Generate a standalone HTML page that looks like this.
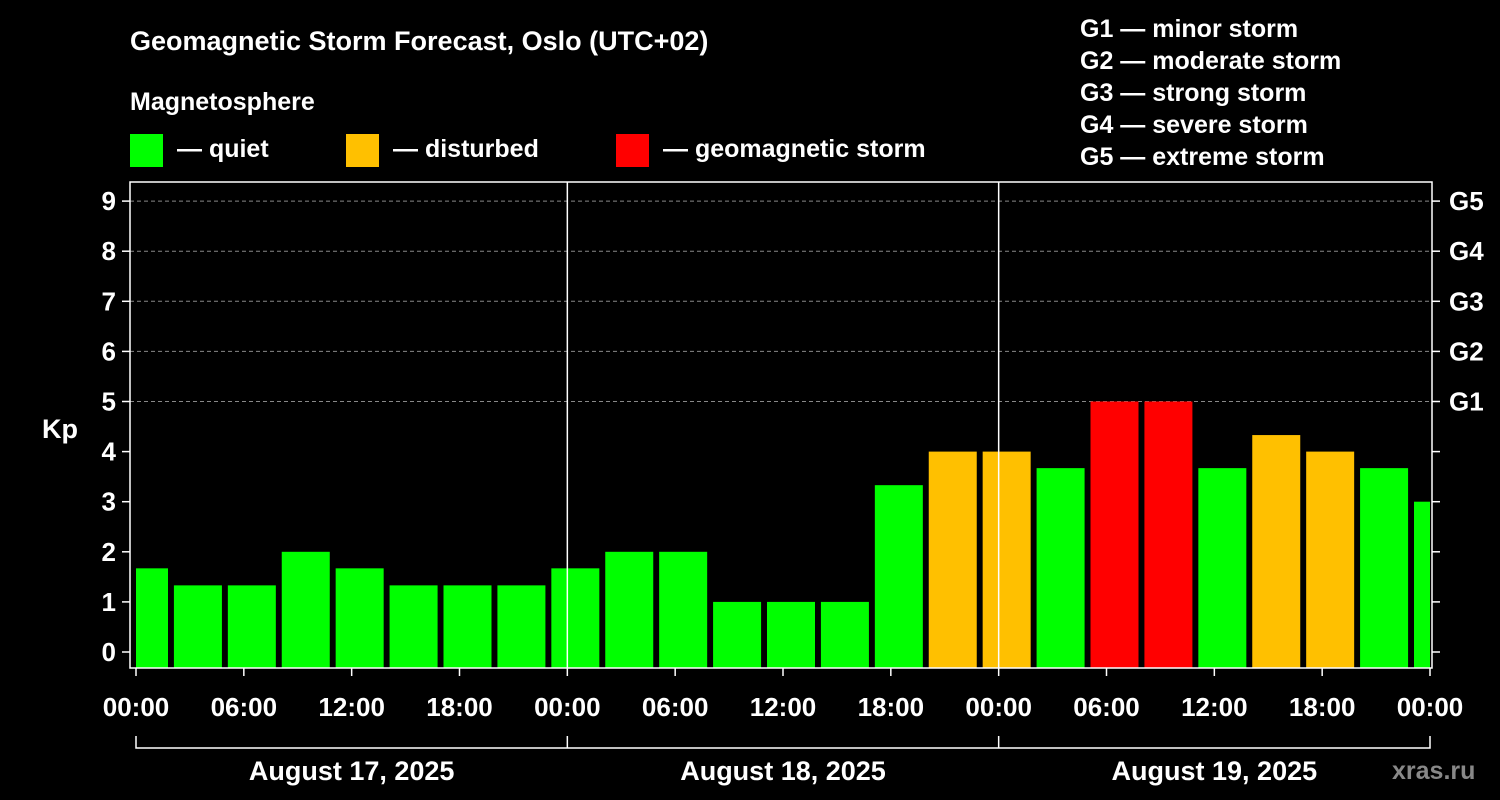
<!DOCTYPE html>
<html><head><meta charset="utf-8"><style>
body{margin:0;background:#000;}
svg{display:block;font-family:"Liberation Sans",Arial,sans-serif;font-weight:bold;}
</style></head><body>
<svg id="c" width="1500" height="800" viewBox="0 0 1500 800">
<rect width="1500" height="800" fill="#000"/>
<text x="130" y="50" fill="#fff" font-size="27">Geomagnetic Storm Forecast, Oslo (UTC+02)</text>
<text x="130" y="110" fill="#fff" font-size="25">Magnetosphere</text>
<g>
<rect x="130" y="134" width="33" height="33" fill="#00ff00"/>
<text x="177" y="157" fill="#fff" font-size="25">— quiet</text>
<rect x="346" y="134" width="33" height="33" fill="#ffc000"/>
<text x="393" y="157" fill="#fff" font-size="25">— disturbed</text>
<rect x="616" y="134" width="33" height="33" fill="#ff0000"/>
<text x="663" y="157" fill="#fff" font-size="25">— geomagnetic storm</text>
</g>
<g fill="#fff" font-size="25">
<text x="1080" y="37">G1 — minor storm</text>
<text x="1080" y="69">G2 — moderate storm</text>
<text x="1080" y="101">G3 — strong storm</text>
<text x="1080" y="133">G4 — severe storm</text>
<text x="1080" y="165">G5 — extreme storm</text>
</g>
<text x="42" y="438" fill="#fff" font-size="27">Kp</text>
<text x="1392" y="779" fill="#888" font-size="25">xras.ru</text>
<g id="plot"></g>
</svg>
<script>
const values=[1.67,1.33,1.33,2,1.67,1.33,1.33,1.33,1.67,2,2,1,1,1,3.33,4,4,3.67,5,5,3.67,4.33,4,3.67,3];
const yTicks=[0,1,2,3,4,5,6,7,8,9];
const gLabels=["","","","","","G1","G2","G3","G4","G5"];
const xTickLabels=["00:00","06:00","12:00","18:00","00:00","06:00","12:00","18:00","00:00","06:00","12:00","18:00","00:00"];
const dayLabels=["August 17, 2025","August 18, 2025","August 19, 2025"];
const NS="http://www.w3.org/2000/svg";
const g=document.getElementById('plot');
const L=130,R=1432,T=182,B=668,X0=136,X1=1430;
const y=v=>652-v*50.1;
const xh=h=>X0+h*(X1-X0)/72;
function mk(t,a,p){const e=document.createElementNS(NS,t);for(const k in a)e.setAttribute(k,a[k]);(p||g).appendChild(e);return e;}
// grid
yTicks.forEach((v,i)=>{
 if(v>=5){const l=mk('line',{x1:L,x2:R,y1:y(v),y2:y(v),stroke:'#888','stroke-dasharray':'4,3','stroke-width':1});
 }
 const t1=mk('line',{x1:L-8,x2:L,y1:y(v),y2:y(v),stroke:'#fff','stroke-width':1.5});
 
 const t2=mk('line',{x1:R,x2:R+8,y1:y(v),y2:y(v),stroke:'#fff','stroke-width':1.5});
 
 const tx=mk('text',{x:L-14,y:y(v)+9,fill:'#fff','font-size':26,'text-anchor':'end'});tx.textContent=v;
 
 if(gLabels[i]){const gt=mk('text',{x:R+17,y:y(v)+9,fill:'#fff','font-size':26});gt.textContent=gLabels[i];
 }
});
// bars
values.forEach((v,k)=>{
 let x1=xh(3*k-0.89)+6*0, xa=xh(3*k)-16+0, xb;
 xa=X0-16+54*k*(X1-X0)/1296; xb=xa+48;
 xa=Math.max(xa,X0);xb=Math.min(xb,X1-0);
 const c=v>=4.99?'#ff0000':(v>=3.99?'#ffc000':'#00ff00');
 const r=mk('rect',{x:xa,y:y(v),width:xb-xa,height:B-y(v),fill:c});
 
});
// day separators
[24,48].forEach(h=>{const l=mk('line',{x1:xh(h),x2:xh(h),y1:T,y2:B,stroke:'#fff','stroke-width':1.5});
 });
const fr=mk('rect',{x:L,y:T,width:R-L,height:B-T,fill:'none',stroke:'#fff','stroke-width':1.5});

xTickLabels.forEach((s,i)=>{const x=xh(i*6);
 const t=mk('line',{x1:x,x2:x,y1:B,y2:B+8,stroke:'#fff','stroke-width':1.5});
 
 const tx=mk('text',{x:x,y:716,fill:'#fff','font-size':26,'text-anchor':'middle'});tx.textContent=s;
 });
const br=mk('path',{d:`M${X0},736V748H${X1}V736M${xh(24)},736V748M${xh(48)},736V748`,stroke:'#fff',fill:'none','stroke-width':1.5});

dayLabels.forEach((s,i)=>{const tx=mk('text',{x:xh(24*i+12),y:780,fill:'#fff','font-size':27,'text-anchor':'middle'});tx.textContent=s;
 });
</script>
</body></html>
